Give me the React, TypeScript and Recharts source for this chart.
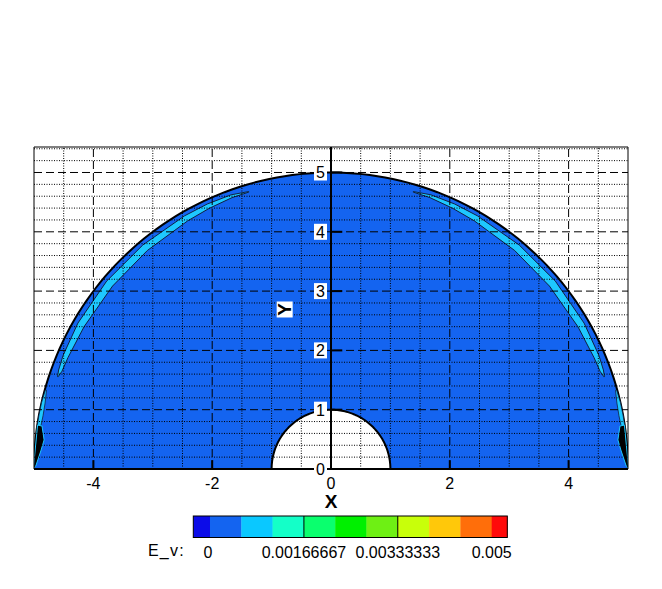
import { ComposedChart, Area, XAxis, YAxis, ReferenceLine, ReferenceArea, ReferenceDot } from 'recharts'

const FONT = '"Liberation Sans", Arial, sans-serif'
const FIELD = '#1464F0'

// half annulus between the two walls
const INNER_RADIUS = 1
const OUTER_RADIUS = 5

const X_DOMAIN = [-5, 5]
const Y_DOMAIN = [0, 5.43]

const X_TICKS = [-4, -2, 0, 2, 4]
const Y_TICKS = [0, 1, 2, 3, 4, 5]
const X_GRID_MAJOR = [-4, -2, 2, 4]
const X_GRID_MINOR = [-4.5, -3.5, -3, -2.5, -1.5, -1, -0.5, 0.5, 1, 1.5, 2.5, 3, 3.5, 4.5]
const Y_GRID_MAJOR = [1, 2, 3, 4, 5]
const Y_GRID_MINOR = [
  0.2, 0.4, 0.6, 0.8, 1.2, 1.4, 1.6, 1.8, 2.2, 2.4, 2.6, 2.8, 3.2, 3.4, 3.6, 3.8,
  4.2, 4.4, 4.6, 4.8, 5.2, 5.4,
]

// light blue E_v band just inside the outer wall, left side (angle in deg, radius)
const BAND_ANGLE = [106.5, 110, 115, 120, 130, 140, 150, 157, 160, 161.3]
const BAND_R_IN = [4.87, 4.87, 4.85, 4.83, 4.81, 4.8, 4.8, 4.81, 4.82, 4.85]
const BAND_R_OUT = [4.88, 4.92, 4.93, 4.93, 4.93, 4.93, 4.92, 4.9, 4.88, 4.86]

// crowded contours where the outer wall meets y = 0, left side
const CORNER_X = [-5.01, -4.94, -4.865, -4.83, -4.88, -4.97, -5.01]
const CORNER_Y = [0.01, 0.74, 0.725, 0.49, 0.32, 0.05, 0.01]
const STRIP_ANGLE = [164.5, 167, 169.5, 172]
const STRIP_R_IN = [4.97, 4.94, 4.93, 4.94]
const STRIP_R_OUT = [4.99, 5, 5, 5]

// contour legend
const LEVELS = [0, 0.000556, 0.001111, 0.001667, 0.002222, 0.002778, 0.003333, 0.003889, 0.004444, 0.005]
const LEVEL_COLORS = [
  '#0C0CE8', '#1464F0', '#0AC8FF', '#14FFC8', '#0AFF6E', '#00F000',
  '#6EF014', '#C8FF0A', '#FFC80A', '#FF6E0A', '#FF0A0A',
]
const LEVEL_LABELS = ['0', '0.00166667', '0.00333333', '0.005']
const LEVEL_LABEL_VALUES = [0, 0.001667, 0.003333, 0.005]

type Pt = { x: number; y: number }

const polar = (deg: number, r: number): Pt => ({
  x: r * Math.cos((deg * Math.PI) / 180),
  y: r * Math.sin((deg * Math.PI) / 180),
})

function halfDisc(r: number): Pt[] {
  const pts: Pt[] = []
  for (let a = 0; a <= 180; a += 1.5) pts.push(polar(a, r))
  pts.push(polar(0, r))
  return pts
}

function band(angles: number[], rIn: number[], rOut: number[], mirror: boolean): Pt[] {
  const ang = angles.map((a) => (mirror ? 180 - a : a))
  const outer = ang.map((a, i) => polar(a, rOut[i]))
  const inner = ang.map((a, i) => polar(a, rIn[i])).reverse()
  return [...outer, ...inner, outer[0]]
}

function corner(mirror: boolean): Pt[] {
  return CORNER_X.map((x, i) => ({ x: mirror ? -x : x, y: CORNER_Y[i] }))
}

const YTickLabel = ({ cx, cy, value }: { cx: number; cy: number; value: number }) => (
  <g>
    <rect x={cx - 17} y={cy - 8} width={13} height={16} fill="#fff" />
    <text x={cx - 6} y={cy + 6} textAnchor="end" fontSize={16} fontFamily={FONT} fill="#000">
      {value}
    </text>
  </g>
)

const YTitle = ({ cx, cy }: { cx: number; cy: number }) => (
  <g>
    <rect x={cx - 8} y={cy - 8} width={16} height={16} fill="#fff" />
    <text
      x={cx}
      y={cy}
      transform={`rotate(-90 ${cx} ${cy})`}
      textAnchor="middle"
      dy={6.5}
      fontSize={19}
      fontWeight="bold"
      fontFamily={FONT}
      fill="#000"
    >
      Y
    </text>
  </g>
)

function ColorBar() {
  const zeroX = 210
  const maxX = 491.7
  const top = 11
  const h = 21.5
  const toX = (v: number) => zeroX + (v / LEVELS[LEVELS.length - 1]) * (maxX - zeroX)
  const edges = [193.3, ...LEVELS.map(toX), 507.3]
  return (
    <svg width={662} height={84} style={{ position: 'absolute', left: 0, top: 505 }}>
      {LEVEL_COLORS.map((c, i) => (
        <rect key={c} x={edges[i]} y={top} width={edges[i + 1] - edges[i] + 0.3} height={h} fill={c} />
      ))}
      <rect x={193.3} y={top} width={507.3 - 193.3} height={h} fill="none" stroke="#000" strokeWidth={1} />
      {LEVEL_LABEL_VALUES.slice(1, 3).map((v) => (
        <line key={v} x1={toX(v)} x2={toX(v)} y1={top} y2={top + h} stroke="#000" strokeWidth={1} />
      ))}
      <text x={148} y={51} fontSize={16} letterSpacing={1.2} fontFamily={FONT} fill="#000">
        E_v:
      </text>
      {LEVEL_LABELS.map((t, i) => (
        <text key={t} x={toX(LEVEL_LABEL_VALUES[i]) - (i === 0 ? 2 : 0)} y={53} textAnchor="middle" fontSize={16} fontFamily={FONT} fill="#000">
          {t}
        </text>
      ))}
    </svg>
  )
}

export default function App() {
  const outerWall = halfDisc(OUTER_RADIUS)
  const innerWall = halfDisc(INNER_RADIUS)
  const bandLeft = band(BAND_ANGLE, BAND_R_IN, BAND_R_OUT, false)
  const bandRight = band(BAND_ANGLE, BAND_R_IN, BAND_R_OUT, true)
  const stripLeft = band(STRIP_ANGLE, STRIP_R_IN, STRIP_R_OUT, false)
  const stripRight = band(STRIP_ANGLE, STRIP_R_IN, STRIP_R_OUT, true)

  const regions = [
    { key: 'outer', data: outerWall, fill: FIELD, stroke: '#000', w: 2 },
    { key: 'inner', data: innerWall, fill: '#fff', stroke: '#000', w: 2 },
    { key: 'bandL', data: bandLeft, fill: '#1EC8FF', stroke: '#102040', w: 1 },
    { key: 'bandR', data: bandRight, fill: '#1EC8FF', stroke: '#102040', w: 1 },
    { key: 'stripL', data: stripLeft, fill: '#1EC8FF', stroke: '#102040', w: 0.8 },
    { key: 'stripR', data: stripRight, fill: '#1EC8FF', stroke: '#102040', w: 0.8 },
    { key: 'cornerL', data: corner(false), fill: '#000', stroke: '#1EC8FF', w: 1 },
    { key: 'cornerR', data: corner(true), fill: '#000', stroke: '#1EC8FF', w: 1 },
  ]

  return (
    <div style={{ position: 'absolute', left: 0, top: 0, width: 662, height: 589, background: '#fff', fontFamily: FONT }}>
      <ComposedChart width={662} height={520} margin={{ top: 147, right: 34, bottom: 11, left: 34 }}>
        <XAxis
          type="number"
          dataKey="x"
          domain={X_DOMAIN}
          ticks={X_TICKS}
          allowDataOverflow
          tickLine={false}
          axisLine={{ stroke: '#000', strokeWidth: 2 }}
          tick={{ fill: '#000', fontSize: 16, fontFamily: FONT }}
          tickMargin={3}
          height={40}
          label={{ value: 'X', position: 'insideBottom', offset: 1, fill: '#000', fontSize: 19, fontWeight: 'bold', fontFamily: FONT }}
        />
        <YAxis type="number" dataKey="y" domain={Y_DOMAIN} allowDataOverflow hide width={0} />

        {regions.map((r) => (
          <Area
            key={r.key}
            data={r.data}
            dataKey="y"
            type="linear"
            fill={r.fill}
            fillOpacity={1}
            stroke={r.stroke}
            strokeWidth={r.w}
            isAnimationActive={false}
          />
        ))}

        {X_GRID_MINOR.map((v) => (
          <ReferenceLine key={'xm' + v} x={v} stroke="#000" strokeWidth={1} strokeDasharray="1 1.5" />
        ))}
        {Y_GRID_MINOR.map((v) => (
          <ReferenceLine key={'ym' + v} y={v} stroke="#000" strokeWidth={1} strokeDasharray="1 1.5" />
        ))}
        {X_GRID_MAJOR.map((v) => (
          <ReferenceLine key={'xM' + v} x={v} stroke="#000" strokeWidth={1} strokeDasharray="8 4" />
        ))}
        {Y_GRID_MAJOR.map((v) => (
          <ReferenceLine key={'yM' + v} y={v} stroke="#000" strokeWidth={1} strokeDasharray="8 4" />
        ))}

        <ReferenceArea x1={X_DOMAIN[0]} x2={X_DOMAIN[1]} y1={Y_DOMAIN[0]} y2={Y_DOMAIN[1]} fill="none" stroke="#000" strokeWidth={1} />
        <ReferenceLine x={0} stroke="#000" strokeWidth={2} />
        <ReferenceLine y={0} stroke="#000" strokeWidth={2} />

        {X_TICKS.map((v) => (
          <ReferenceLine key={'xt' + v} segment={[{ x: v, y: 0 }, { x: v, y: 0.15 }]} stroke="#000" strokeWidth={2} />
        ))}
        {Y_TICKS.map((v) => (
          <ReferenceLine key={'yt' + v} segment={[{ x: 0, y: v }, { x: 0.19, y: v }]} stroke="#000" strokeWidth={2} />
        ))}
        {Y_TICKS.map((v) => (
          <ReferenceDot
            key={'yl' + v}
            x={0}
            y={v}
            r={0}
            ifOverflow="visible"
            shape={(p: any) => <YTickLabel cx={p.cx} cy={p.cy} value={v} />}
          />
        ))}
        <ReferenceDot x={-0.78} y={2.69} r={0} ifOverflow="visible" shape={(p: any) => <YTitle cx={p.cx} cy={p.cy} />} />
      </ComposedChart>
      <ColorBar />
    </div>
  )
}
